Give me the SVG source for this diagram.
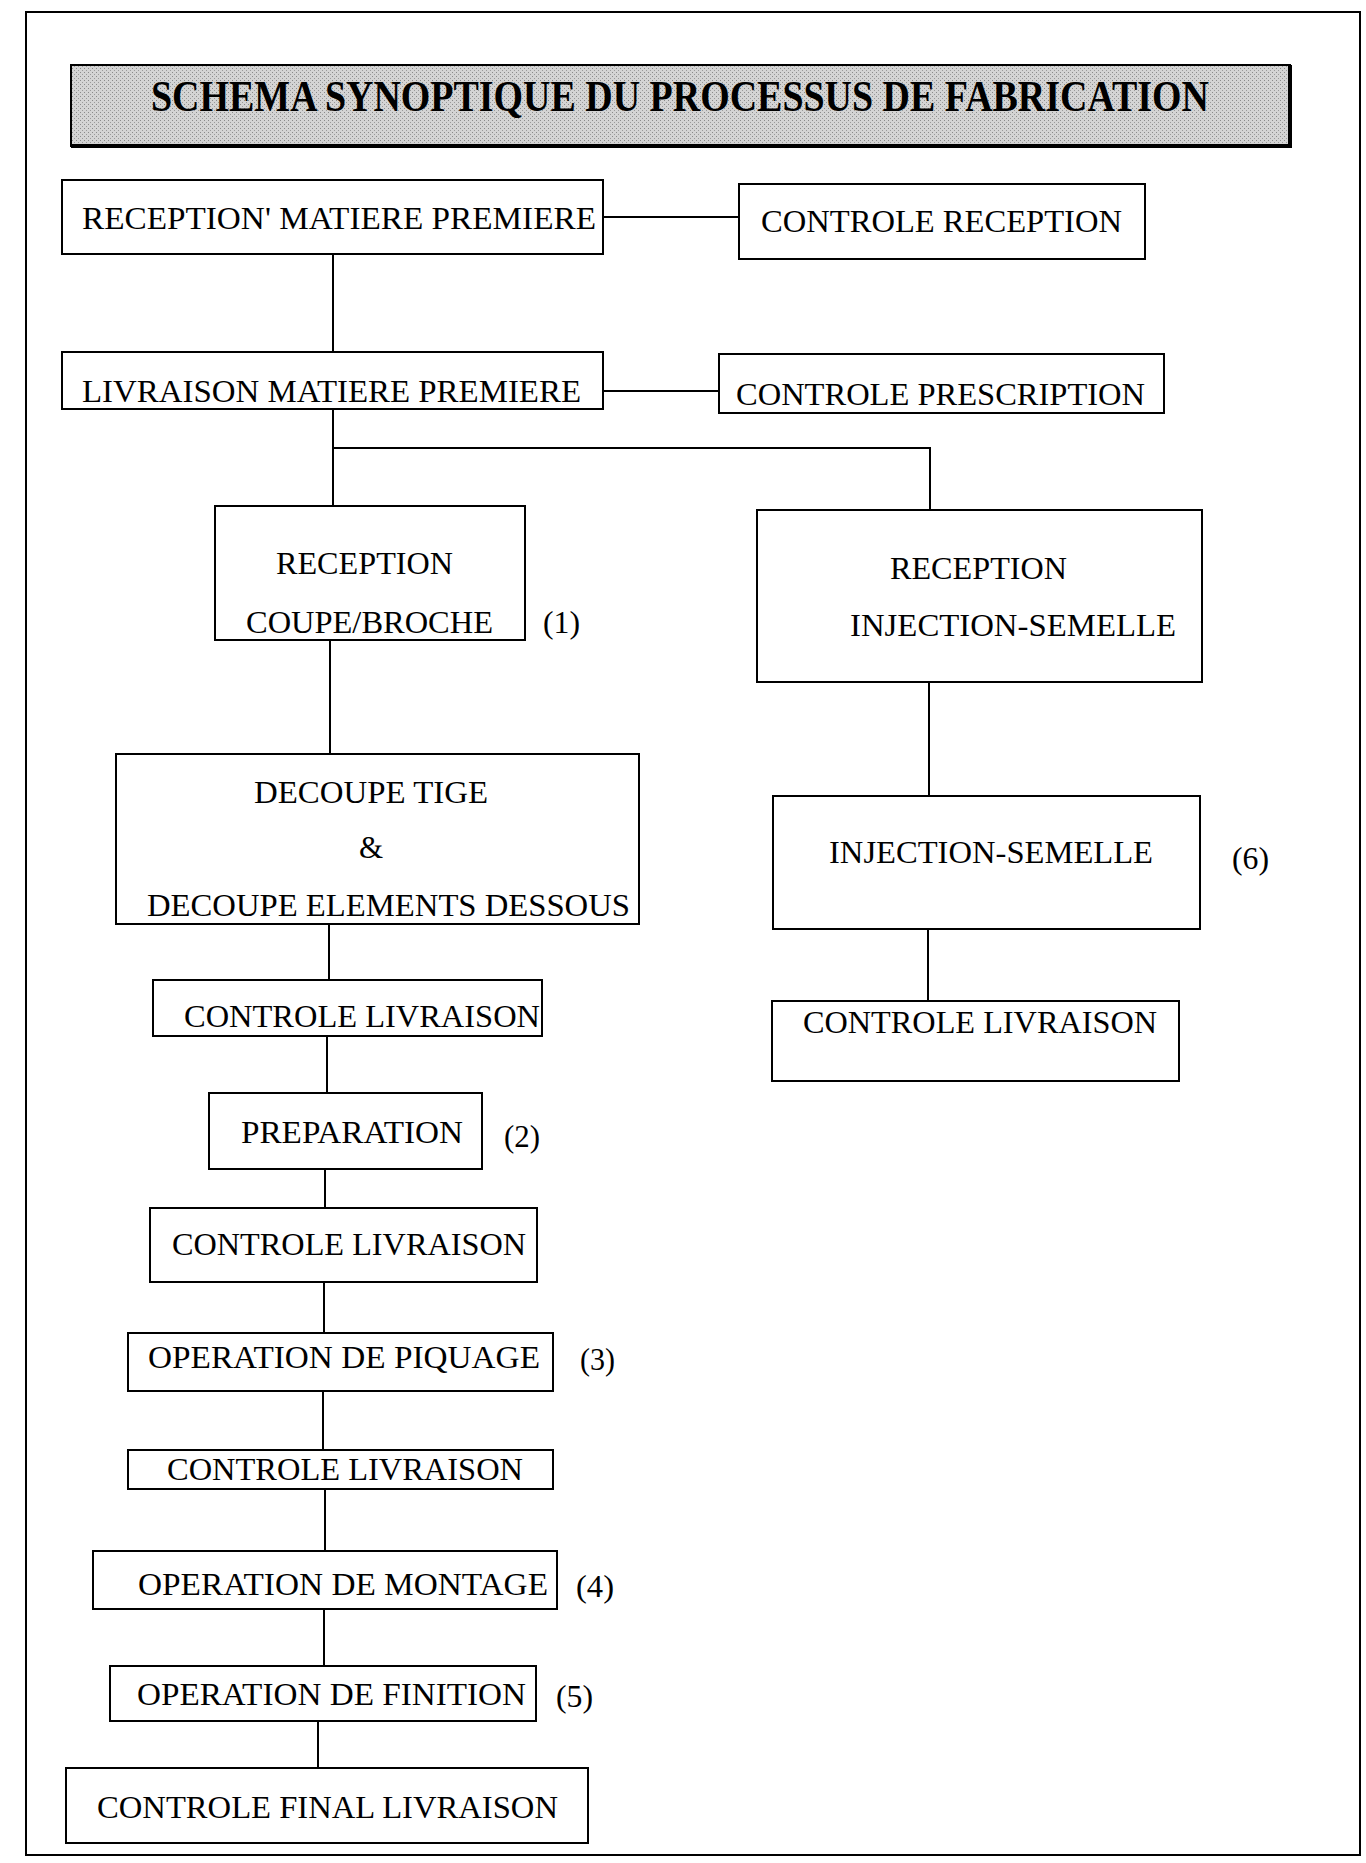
<svg xmlns="http://www.w3.org/2000/svg" width="1366" height="1863" viewBox="0 0 1366 1863">
<defs>
<pattern id="stip" width="4" height="4" patternUnits="userSpaceOnUse">
<rect width="4" height="4" fill="#d4d4d4"/>
<rect x="0" y="0" width="1" height="1" fill="#8a8a8a"/>
<rect x="2" y="2" width="1" height="1" fill="#9a9a9a"/>
</pattern>
</defs>
<style>
.box{fill:#fff;stroke:#000;stroke-width:2}
.t{font-family:"Liberation Serif","Times New Roman",serif;font-size:31px;fill:#000}
.title{font-family:"Liberation Serif","Times New Roman",serif;font-size:44px;font-weight:bold;fill:#000}
.c{fill:none;stroke:#000;stroke-width:2}
</style>
<rect width="1366" height="1863" fill="#fff"/>
<rect x="26" y="12" width="1334" height="1843" fill="none" stroke="#000" stroke-width="2"/>

<g id="title">
<rect x="71" y="65" width="1219" height="81" fill="url(#stip)" stroke="#000" stroke-width="2"/>
<path d="M71 146 H1290 V65" fill="none" stroke="#000" stroke-width="4"/>
<text class="title" transform="translate(151,111) scale(0.856,1)" x="0" y="0" textLength="1236" lengthAdjust="spacingAndGlyphs">SCHEMA SYNOPTIQUE DU PROCESSUS DE FABRICATION</text>
</g>

<g id="connectors">
<path class="c" d="M603 217 H739"/>
<path class="c" d="M333 254 V352"/>
<path class="c" d="M603 391 H719"/>
<path class="c" d="M333 409 V506"/>
<path class="c" d="M333 448 H930 V511"/>
<path class="c" d="M330 640 V754"/>
<path class="c" d="M329 924 V980"/>
<path class="c" d="M327 1036 V1093"/>
<path class="c" d="M325 1169 V1208"/>
<path class="c" d="M324 1282 V1333"/>
<path class="c" d="M323 1391 V1450"/>
<path class="c" d="M325 1489 V1551"/>
<path class="c" d="M324 1609 V1666"/>
<path class="c" d="M318 1721 V1768"/>
<path class="c" d="M929 682 V796"/>
<path class="c" d="M928 929 V1001"/>
</g>

<g id="n_reception_mp">
<rect class="box" x="62" y="180" width="541" height="74"/>
<text class="t" x="82" y="229" textLength="514" lengthAdjust="spacingAndGlyphs">RECEPTION'  MATIERE PREMIERE</text>
</g>
<g id="n_controle_reception">
<rect class="box" x="739" y="184" width="406" height="75"/>
<text class="t" x="761" y="232" textLength="361" lengthAdjust="spacingAndGlyphs">CONTROLE RECEPTION</text>
</g>
<g id="n_livraison_mp">
<rect class="box" x="62" y="352" width="541" height="57"/>
<text class="t" x="82" y="402" textLength="499" lengthAdjust="spacingAndGlyphs">LIVRAISON MATIERE PREMIERE</text>
</g>
<g id="n_controle_prescription">
<rect class="box" x="719" y="354" width="445" height="59"/>
<text class="t" x="736" y="405" textLength="409" lengthAdjust="spacingAndGlyphs">CONTROLE PRESCRIPTION</text>
</g>
<g id="n_reception_coupe">
<rect class="box" x="215" y="506" width="310" height="134"/>
<text class="t" x="276" y="574" textLength="177" lengthAdjust="spacingAndGlyphs">RECEPTION</text>
<text class="t" x="246" y="633" textLength="247" lengthAdjust="spacingAndGlyphs">COUPE/BROCHE</text>
<text class="t" x="543" y="633" textLength="37" lengthAdjust="spacingAndGlyphs">(1)</text>
</g>
<g id="n_decoupe">
<rect class="box" x="116" y="754" width="523" height="170"/>
<text class="t" x="254" y="803" textLength="234" lengthAdjust="spacingAndGlyphs">DECOUPE TIGE</text>
<text class="t" x="359" y="858">&amp;</text>
<text class="t" x="147" y="916" textLength="483" lengthAdjust="spacingAndGlyphs">DECOUPE ELEMENTS DESSOUS</text>
</g>
<g id="n_controle_livraison_1">
<rect class="box" x="153" y="980" width="389" height="56"/>
<text class="t" x="184" y="1027" textLength="356" lengthAdjust="spacingAndGlyphs">CONTROLE LIVRAISON</text>
</g>
<g id="n_preparation">
<rect class="box" x="209" y="1093" width="273" height="76"/>
<text class="t" x="241" y="1143" textLength="222" lengthAdjust="spacingAndGlyphs">PREPARATION</text>
<text class="t" x="504" y="1147" textLength="36" lengthAdjust="spacingAndGlyphs">(2)</text>
</g>
<g id="n_controle_livraison_2">
<rect class="box" x="150" y="1208" width="387" height="74"/>
<text class="t" x="172" y="1255" textLength="354" lengthAdjust="spacingAndGlyphs">CONTROLE LIVRAISON</text>
</g>
<g id="n_piquage">
<rect class="box" x="128" y="1333" width="425" height="58"/>
<text class="t" x="148" y="1368" textLength="392" lengthAdjust="spacingAndGlyphs">OPERATION DE PIQUAGE</text>
<text class="t" x="580" y="1370" textLength="35" lengthAdjust="spacingAndGlyphs">(3)</text>
</g>
<g id="n_controle_livraison_3">
<rect class="box" x="128" y="1450" width="425" height="39"/>
<text class="t" x="167" y="1480" textLength="356" lengthAdjust="spacingAndGlyphs">CONTROLE LIVRAISON</text>
</g>
<g id="n_montage">
<rect class="box" x="93" y="1551" width="464" height="58"/>
<text class="t" x="138" y="1595" textLength="410" lengthAdjust="spacingAndGlyphs">OPERATION DE MONTAGE</text>
<text class="t" x="576" y="1597" textLength="38" lengthAdjust="spacingAndGlyphs">(4)</text>
</g>
<g id="n_finition">
<rect class="box" x="110" y="1666" width="426" height="55"/>
<text class="t" x="137" y="1705" textLength="389" lengthAdjust="spacingAndGlyphs">OPERATION DE FINITION</text>
<text class="t" x="556" y="1707" textLength="37" lengthAdjust="spacingAndGlyphs">(5)</text>
</g>
<g id="n_controle_final">
<rect class="box" x="66" y="1768" width="522" height="75"/>
<text class="t" x="97" y="1818" textLength="461" lengthAdjust="spacingAndGlyphs">CONTROLE FINAL LIVRAISON</text>
</g>
<g id="n_reception_injection">
<rect class="box" x="757" y="510" width="445" height="172"/>
<text class="t" x="890" y="579" textLength="177" lengthAdjust="spacingAndGlyphs">RECEPTION</text>
<text class="t" x="850" y="636" textLength="326" lengthAdjust="spacingAndGlyphs">INJECTION-SEMELLE</text>
</g>
<g id="n_injection">
<rect class="box" x="773" y="796" width="427" height="133"/>
<text class="t" x="829" y="863" textLength="324" lengthAdjust="spacingAndGlyphs">INJECTION-SEMELLE</text>
<text class="t" x="1232" y="869" textLength="37" lengthAdjust="spacingAndGlyphs">(6)</text>
</g>
<g id="n_controle_livraison_r">
<rect class="box" x="772" y="1001" width="407" height="80"/>
<text class="t" x="803" y="1033" textLength="354" lengthAdjust="spacingAndGlyphs">CONTROLE LIVRAISON</text>
</g>
</svg>
